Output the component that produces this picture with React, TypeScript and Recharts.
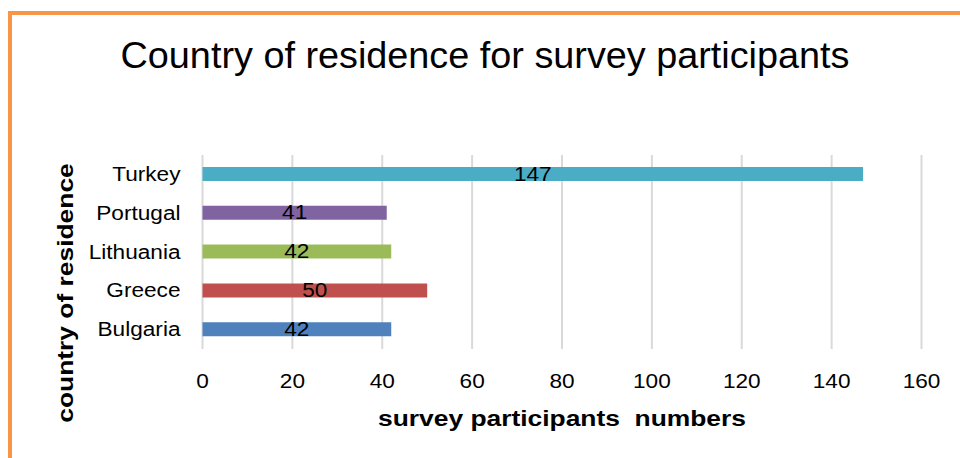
import React from "react";
import { BarChart, Bar, XAxis, YAxis, CartesianGrid, Cell, LabelList, Label } from "recharts";

// Survey participants per country of residence
const countries = ["Turkey", "Portugal", "Lithuania", "Greece", "Bulgaria"];
const participants = [147, 41, 42, 50, 42];
const barColors = ["#4BACC6", "#8064A2", "#9BBB59", "#C0504D", "#4F81BD"];
const xTicks = [0, 20, 40, 60, 80, 100, 120, 140, 160];

const chartTitle = "Country of residence for survey participants";
const xTitle = "survey participants  numbers";
const yTitle = "country of residence";

const data = countries.map((name, i) => ({ name, value: participants[i], color: barColors[i] }));

const FONT = "'Liberation Sans', Arial, Helvetica, sans-serif";
const WIDE = 1.16;

type STProps = {
  x: number;
  y: number;
  anchor?: "start" | "middle" | "end";
  size: number;
  bold?: boolean;
  sx?: number;
  rotate?: number;
  children: React.ReactNode;
};

function StretchText({ x, y, anchor = "middle", size, bold, sx = WIDE, rotate = 0, children }: STProps) {
  return (
    <text
      transform={`translate(${x},${y}) rotate(${rotate}) scale(${sx},1)`}
      textAnchor={anchor}
      fontSize={size}
      fontWeight={bold ? 700 : 400}
      fontFamily={FONT}
      fill="#000"
      style={{ whiteSpace: "pre" }}
    >
      {children}
    </text>
  );
}

function XTick(props: any) {
  const { x, y, payload } = props;
  return (
    <StretchText x={x} y={y + 39} size={19.5}>
      {payload.value}
    </StretchText>
  );
}

function YTick(props: any) {
  const { x, y, payload } = props;
  return (
    <StretchText x={x - 22} y={y + 6.5} anchor="end" size={19.5}>
      {payload.value}
    </StretchText>
  );
}

function ValueLabel(props: any) {
  const { x, y, width, height, value } = props;
  return (
    <StretchText x={x + width / 2} y={y + height / 2 + 6.5} size={19.5}>
      {value}
    </StretchText>
  );
}

export default function App() {
  return (
    <div
      style={{
        position: "absolute",
        left: 0,
        top: 0,
        width: 960,
        height: 458,
        overflow: "hidden",
        background: "#fff",
      }}
    >
      <div
        style={{
          position: "absolute",
          left: 8,
          top: 11,
          width: 1000,
          height: 500,
          borderLeft: "4px solid #F79646",
          borderTop: "4px solid #F79646",
        }}
      />
      <div style={{ position: "absolute", left: 0, top: 0 }}>
        <BarChart
          width={960}
          height={458}
          data={data}
          layout="vertical"
          margin={{ top: 155, right: 38.5, bottom: 0, left: 0 }}
        >
          <CartesianGrid horizontal={false} stroke="#D9D9D9" strokeWidth={2} />
          <XAxis
            type="number"
            domain={[0, 160]}
            ticks={xTicks}
            height={109}
            axisLine={false}
            tickLine={false}
            tickSize={0}
            tickMargin={0}
            tick={<XTick />}
            interval={0}
          >
            <Label
              content={(p: any) => {
                const vb = p.viewBox || { x: 202.5, y: 349, width: 719, height: 109 };
                return (
                  <StretchText x={vb.x + vb.width / 2} y={vb.y + 77} size={22} bold sx={1.2}>
                    {xTitle}
                  </StretchText>
                );
              }}
            />
          </XAxis>
          <YAxis
            type="category"
            dataKey="name"
            width={202.5}
            axisLine={false}
            tickLine={false}
            tickSize={0}
            tickMargin={0}
            tick={<YTick />}
            interval={0}
          >
            <Label
              content={() => (
                <StretchText x={73} y={293} rotate={-90} size={22} bold sx={1.2}>
                  {yTitle}
                </StretchText>
              )}
            />
          </YAxis>
          <Bar dataKey="value" barSize={14} isAnimationActive={false}>
            {data.map((d) => (
              <Cell key={d.name} fill={d.color} />
            ))}
            <LabelList dataKey="value" content={<ValueLabel />} />
          </Bar>
          <StretchText x={485} y={68} size={36} sx={1.05}>
            {chartTitle}
          </StretchText>
        </BarChart>
      </div>
    </div>
  );
}
